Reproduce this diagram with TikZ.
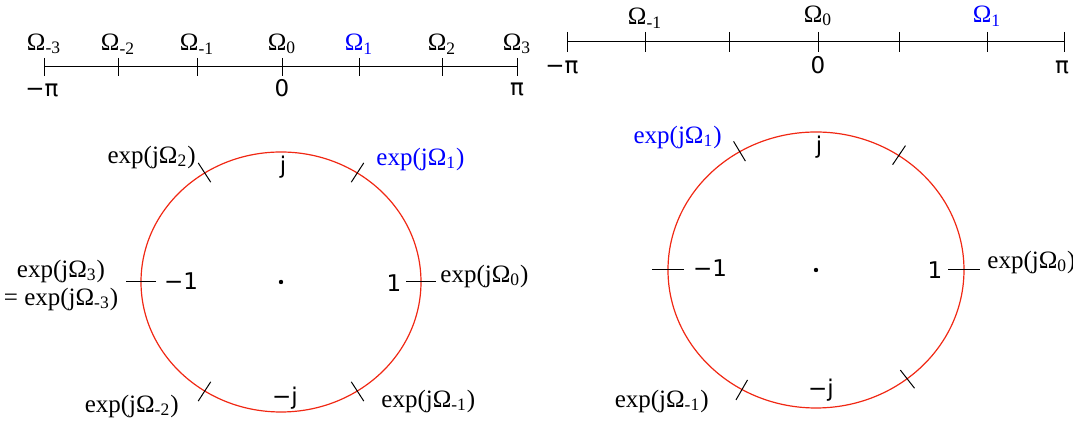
\documentclass[tikz,border=0pt]{standalone}
\usepackage{fontspec}
\setmainfont{Liberation Serif}
\newfontfamily\numfont{DejaVu Sans}
\usetikzlibrary{positioning}
\definecolor{unitred}{RGB}{240,40,20}
\newcommand{\Om}[1]{Ω\textsubscript{#1}}
\newcommand{\ejo}[1]{exp(jΩ\textsubscript{#1})}

\begin{document}
\begin{tikzpicture}[
  x=0.5pt,y=-0.5pt,
  lbl/.style={inner sep=1pt,font=\fontsize{12.5}{14}\selectfont},
  num/.style={inner sep=1pt,font=\numfont\fontsize{11.5}{13}\selectfont},
  sel/.style={text=blue},
  ucirc/.style={draw=unitred,line width=0.6pt},
  tk/.style={line width=0.5pt}
]
\useasboundingbox (0,0) rectangle (1073,421);
% left: N = 6
\coordinate (la) at (44,67);
\coordinate (lb) at (517,67);
\draw[tk] (la) -- (lb);
\foreach \x/\k/\c in {44/-3/black,118/-2/black,197/-1/black,282/0/black,359/1/blue,442/2/black,517/3/black} {
  \draw[tk] (\x,58) -- (\x,76);
  \node[lbl,text=\c] (lo\k) at (\x,44) {\Om{\k}};
}
\node[num] (lmpi) at (42,90) {−π};
\node[num] (lzero) at (282,88) {0};
\node[num] (lpi) at (517,89) {π};

\coordinate (c1) at (281,282);
\draw[ucirc] (c1) ellipse [x radius=140,y radius=130];
\fill (c1) circle (2.2);
\begin{scope}[shift={(c1)}]
  \foreach \a in {57,123,237,303}
    \draw[tk] ({129*cos(\a)},{-119*sin(\a)}) -- ({152*cos(\a)},{-142*sin(\a)});
  \foreach \a in {0,180}
    \draw[tk] ({125*cos(\a)},0) -- ({155*cos(\a)},0);
\end{scope}
\node[num] (lj) at (283,167) {j};
\node[num] (lmj) at (285,398) {−j};
\node[num] (lm1) at (181,281) {−1};
\node[num] (l1) at (394,283) {1};
\node[lbl,anchor=west] (le0) at (438,276) {\ejo{0}};
\node[lbl,anchor=west,sel] (le1) at (374,159) {\ejo{1}};
\node[lbl,anchor=east] (le2) at (198,157) {\ejo{2}};
\node[lbl,align=center] (le3) at (61,285) {\ejo{3}\\= \ejo{-3}};
\node[lbl,anchor=east] (lem2) at (181,406) {\ejo{-2}};
\node[lbl,anchor=west] (lem1) at (379,401) {\ejo{-1}};

% right: N = 3
\coordinate (ra) at (567,42);
\coordinate (rb) at (1064,42);
\draw[tk] (ra) -- (rb);
\foreach \x in {567,645,729,818,899,987,1064}
  \draw[tk] (\x,32) -- (\x,52);
\node[lbl] (ro-1) at (645,18) {\Om{-1}};
\node[lbl] (ro0) at (818,16) {\Om{0}};
\node[lbl,sel] (ro1) at (987,16) {\Om{1}};
\node[num] (rmpi) at (562,67) {−π};
\node[num] (rzero) at (818,65) {0};
\node[num] (rpi) at (1062,67) {π};

\coordinate (c2) at (816,270);
\draw[ucirc] (c2) ellipse [x radius=148,y radius=138];
\fill (c2) circle (2.2);
\begin{scope}[shift={(c2)}]
  \foreach \a in {56,121,240,308}
    \draw[tk] ({137*cos(\a)},{-127*sin(\a)}) -- ({160*cos(\a)},{-150*sin(\a)});
  \foreach \a in {0,180}
    \draw[tk] ({132*cos(\a)},0) -- ({164*cos(\a)},0);
\end{scope}
\node[num] (rj) at (819,147) {j};
\node[num] (rmj) at (821,390) {−j};
\node[num] (rm1) at (710,268) {−1};
\node[num] (r1) at (935,270) {1};
\node[lbl,anchor=west] (re0) at (985,262) {\ejo{0}};
\node[lbl,anchor=east,sel] (re1) at (724,137) {\ejo{1}};
\node[lbl,anchor=east] (rem1) at (711,401) {\ejo{-1}};
\end{tikzpicture}
\end{document}
